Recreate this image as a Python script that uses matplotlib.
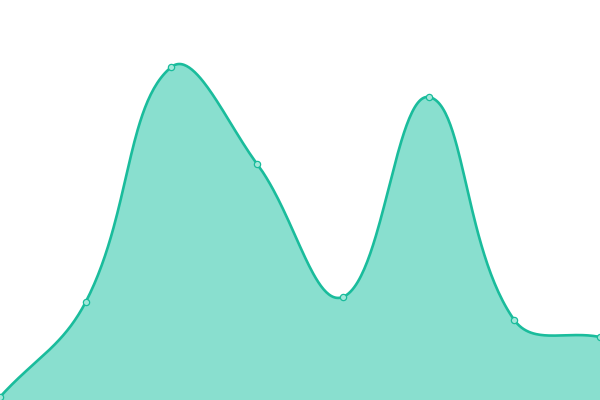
import numpy as np
import matplotlib
matplotlib.use('Agg')
import matplotlib.pyplot as plt

# values (pixel height above the bottom edge)
xs = [0, 1, 2, 3, 4, 5, 6, 7]
vals = [3, 98, 333, 236, 103, 303, 80, 63]

line_col = '#1abc9c'
fill_col = '#89dfcf'

W, H = 600, 400


def smooth_curve(x, y, tension=0.4, steps=60):
    # bezier smoothing weighted by segment lengths, worked in pixel units
    px = np.asarray(x, float) * W / (len(x) - 1)
    py = np.asarray(y, float)
    n = len(px)
    cin = [None] * n
    cout = [None] * n
    for i in range(n):
        prv = max(i - 1, 0)
        nxt = min(i + 1, n - 1)
        vx = px[nxt] - px[prv]
        vy = py[nxt] - py[prv]
        d01 = np.hypot(px[i] - px[prv], py[i] - py[prv])
        d12 = np.hypot(px[nxt] - px[i], py[nxt] - py[i])
        s01 = d01 / (d01 + d12)
        s12 = d12 / (d01 + d12)
        cin[i] = (px[i] - tension * s01 * vx, py[i] - tension * s01 * vy)
        cout[i] = (px[i] + tension * s12 * vx, py[i] + tension * s12 * vy)
    ox, oy = [], []
    t = np.linspace(0, 1, steps)
    a = (1 - t) ** 3
    b = 3 * (1 - t) ** 2 * t
    c = 3 * (1 - t) * t ** 2
    d = t ** 3
    for i in range(n - 1):
        ox.extend(a * px[i] + b * cout[i][0] + c * cin[i + 1][0] + d * px[i + 1])
        oy.extend(a * py[i] + b * cout[i][1] + c * cin[i + 1][1] + d * py[i + 1])
    return np.array(ox) * (len(x) - 1) / W, np.array(oy)


sx, sy = smooth_curve(xs, vals)

fig = plt.figure(figsize=(6, 4), dpi=100)
ax = fig.add_axes([0, 0, 1, 1])
ax.fill_between(sx, sy, 0, color=fill_col, lw=0)
ax.plot(sx, sy, color=line_col, lw=1.9, solid_capstyle='round')
ax.plot(xs, vals, 'o', ms=4.5, mfc='#a3e8da', mec=line_col, mew=0.9, clip_on=False)
ax.set_xlim(0, 7)
ax.set_ylim(0, 400)
ax.axis('off')

plt.savefig('out.png', dpi=100)
